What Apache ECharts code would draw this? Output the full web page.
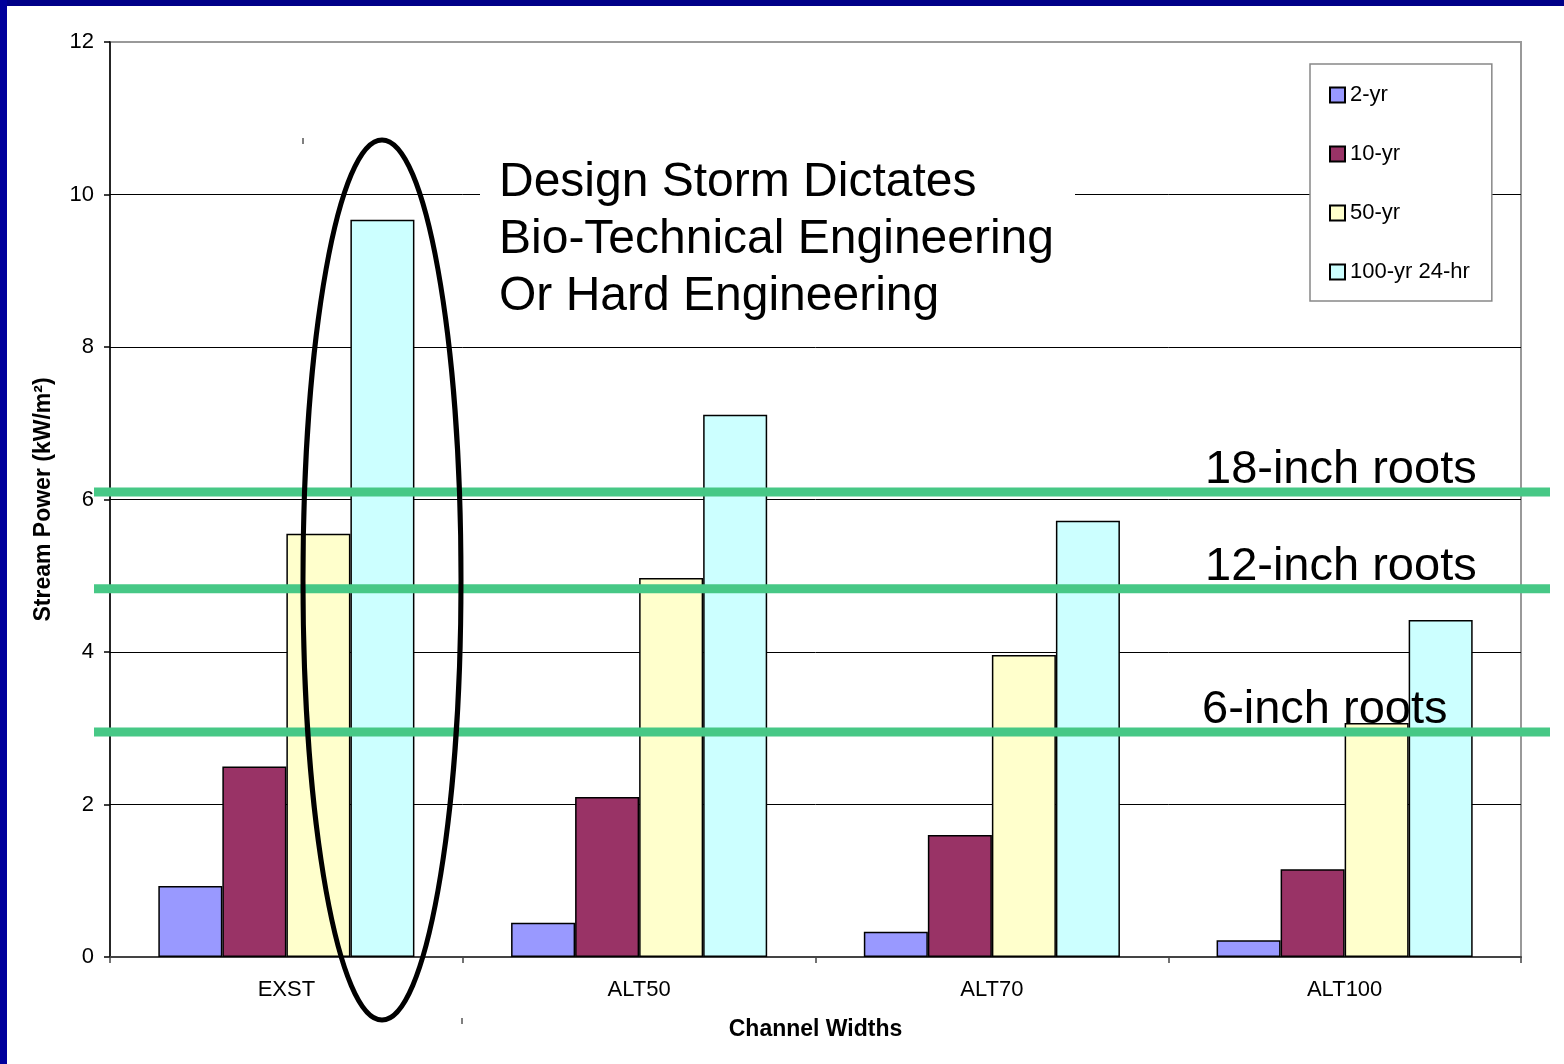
<!DOCTYPE html>
<html>
<head>
<meta charset="utf-8">
<title>Stream Power by Channel Width</title>
<script src="https://cdn.jsdelivr.net/npm/echarts@6/dist/echarts.min.js"></script>
<style>
  html, body { margin: 0; padding: 0; background: #fff; }
  #chart { width: 1564px; height: 1064px; }
</style>
</head>
<body>
<div id="chart"></div>
<script>
// Channel width alternatives
const categories = ['EXST', 'ALT50', 'ALT70', 'ALT100'];
// Design storm series
const seriesNames = ['2-yr', '10-yr', '50-yr', '100-yr 24-hr'];
// Stream power, kW/m^2
const values2yr = [0.93, 0.45, 0.33, 0.22];
const values10yr = [2.50, 2.10, 1.60, 1.15];
const values50yr = [5.55, 4.97, 3.96, 3.07];
const values100yr = [9.67, 7.11, 5.72, 4.42];
// Stream power resisted by root depth
const rootDepthLabels = ['18-inch roots', '12-inch roots', '6-inch roots'];
const rootDepthLevels = [6.10, 4.83, 2.95];
// Callout text
const calloutLines = ['Design Storm Dictates', 'Bio-Technical Engineering', 'Or Hard Engineering'];

const FONT = '"Liberation Sans", Arial, Helvetica, sans-serif';
const barColors = ['#9999FF', '#993366', '#FFFFCC', '#CCFFFF'];
const seriesData = [values2yr, values10yr, values50yr, values100yr];

const chart = echarts.init(document.getElementById('chart'), null, { renderer: 'canvas' });

const option = {
  animation: false,
  backgroundColor: '#fff',
  textStyle: { fontFamily: FONT },
  grid: {
    left: 110, right: 43, top: 42, bottom: 107,
    show: true, borderColor: '#999', borderWidth: 2, backgroundColor: 'transparent'
  },
  legend: {
    orient: 'vertical',
    left: 1310, top: 64,
    padding: [20, 22, 18, 19],
    itemWidth: 15, itemHeight: 15, itemGap: 37,
    backgroundColor: '#fff',
    borderColor: '#888', borderWidth: 1.5, borderRadius: 0,
    icon: 'rect',
    textStyle: { fontFamily: FONT, fontSize: 22, color: '#000' },
    data: seriesNames
  },
  xAxis: {
    type: 'category',
    data: categories,
    name: 'Channel Widths',
    nameLocation: 'middle',
    nameGap: 61,
    nameTextStyle: { fontFamily: FONT, fontSize: 23, fontWeight: 'bold', color: '#000' },
    axisLine: { lineStyle: { color: '#444', width: 2 } },
    axisTick: { show: true, length: 6, lineStyle: { color: '#444', width: 1.5 } },
    axisLabel: { margin: 22, fontFamily: FONT, fontSize: 22, color: '#000' },
    splitLine: { show: false }
  },
  yAxis: {
    type: 'value',
    min: 0, max: 12, interval: 2,
    name: 'Stream Power (kW/m²)',
    nameLocation: 'middle',
    nameGap: 55,
    nameTextStyle: { fontFamily: FONT, fontSize: 23, fontWeight: 'bold', color: '#000' },
    axisLine: { show: true, lineStyle: { color: '#000', width: 1.5 } },
    axisTick: { show: true, length: 6, lineStyle: { color: '#000', width: 1.5 } },
    axisLabel: { margin: 16, fontFamily: FONT, fontSize: 22, color: '#000' },
    splitLine: {
      show: true,
      lineStyle: { color: ['#000', '#000', '#000', '#000', '#000', '#000', '#999'], width: 1 }
    }
  },
  series: seriesNames.map((name, i) => ({
    type: 'bar',
    name: name,
    data: seriesData[i],
    barGap: '0%',
    barCategoryGap: '27.4%',
    itemStyle: { color: barColors[i], borderColor: '#000', borderWidth: 1.5 }
  }))
};

chart.setOption(option);

// Annotations: root-strength thresholds, callout and highlight ellipse
const graphics = [];

// blue slide frame along the top and left edges
graphics.push({ type: 'rect', shape: { x: 0, y: 0, width: 1564, height: 6 }, style: { fill: '#000088' }, z: 200 });
graphics.push({ type: 'rect', shape: { x: 0, y: 0, width: 7, height: 1064 }, style: { fill: '#00009C' }, z: 200 });

// callout box that blanks the grid behind the text
graphics.push({ type: 'rect', shape: { x: 480, y: 150, width: 595, height: 180 }, style: { fill: '#fff' }, z: 50 });
const calloutBaselines = [200, 257, 314];
calloutLines.forEach((t, i) => {
  graphics.push({
    type: 'text', x: 499, y: calloutBaselines[i] - 17, z: 60,
    style: { text: t, fill: '#000', font: '48px ' + FONT, align: 'left', verticalAlign: 'middle' }
  });
});

// threshold lines drawn across the whole plot
rootDepthLevels.forEach((lvl, i) => {
  const py = chart.convertToPixel({ yAxisIndex: 0 }, lvl);
  graphics.push({
    type: 'line', z: 70,
    shape: { x1: 94, y1: py, x2: 1550, y2: py },
    style: { stroke: '#47C886', lineWidth: 9 }
  });
  graphics.push({
    type: 'text', x: i === 2 ? 1202 : 1205, y: py - 22, z: 80,
    style: { text: rootDepthLabels[i], fill: '#000', font: '47px ' + FONT, align: 'left', verticalAlign: 'middle' }
  });
});

// ellipse around the existing channel's large-storm bars
graphics.push({
  type: 'ellipse', z: 90,
  shape: { cx: 382, cy: 580, rx: 79, ry: 440 },
  style: { fill: 'none', stroke: '#000', lineWidth: 5 }
});
graphics.push({ type: 'line', z: 90, shape: { x1: 303, y1: 138, x2: 303, y2: 144 }, style: { stroke: '#000', lineWidth: 1 } });
graphics.push({ type: 'line', z: 90, shape: { x1: 462, y1: 1018, x2: 462, y2: 1024 }, style: { stroke: '#000', lineWidth: 1 } });

chart.setOption({ graphic: graphics });
</script>
</body>
</html>
